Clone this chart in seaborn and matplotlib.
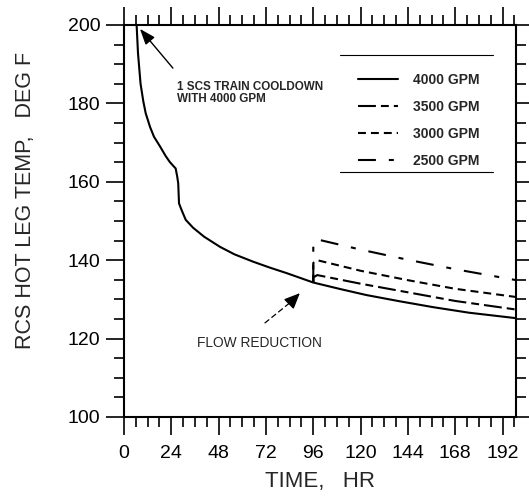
import matplotlib
matplotlib.use("Agg")
import matplotlib.pyplot as plt
from matplotlib.ticker import MultipleLocator
from matplotlib.lines import Line2D
import seaborn as sns
import pandas as pd

# ---- data ----
time_4000 = [6.4, 7.1, 8.4, 9.8, 11.0, 13.2, 15.2, 18.3, 21.1, 23.3, 26.2, 27.0, 27.5, 27.9,
             29.2, 31.3, 35.0, 40.6, 48.7, 56.0, 65.6, 74.0, 82.5, 96.0, 110.0, 123.0,
             140.0, 157.0, 175.0, 199.0]
temp_4000 = [200.0, 192.8, 185.0, 180.5, 177.5, 174.0, 171.5, 169.0, 166.6, 165.0, 163.4, 161.3,
             159.6, 154.5, 152.8, 150.3, 148.3, 146.0, 143.4, 141.5, 139.6, 138.1, 136.7, 134.3,
             132.6, 131.1, 129.5, 128.0, 126.6, 125.2]

time_reduced = [96.0, 96.0, 98.0, 120.0, 144.0, 168.0, 199.0]
temp_3500 = [134.3, 135.6, 136.2, 134.0, 131.8, 129.6, 127.4]
temp_3000 = [134.3, 139.3, 140.0, 137.3, 134.9, 132.7, 130.6]
temp_2500 = [134.3, 144.5, 145.3, 142.7, 140.1, 137.7, 134.9]

flow_labels = ["4000 GPM", "3500 GPM", "3000 GPM", "2500 GPM"]
x_ticks = [0, 24, 48, 72, 96, 120, 144, 168, 192]
y_ticks = [100, 120, 140, 160, 180, 200]

frames = [pd.DataFrame({"time": time_4000, "temp": temp_4000, "flow": flow_labels[0]})]
for lab, vals in zip(flow_labels[1:], [temp_3500, temp_3000, temp_2500]):
    frames.append(pd.DataFrame({"time": time_reduced, "temp": vals, "flow": lab}))
df = pd.concat(frames, ignore_index=True)

# ---- style ----
sns.set_style("ticks")
plt.rcParams["font.family"] = ["Liberation Sans", "DejaVu Sans"]

fig = plt.figure(figsize=(5.29, 4.96), dpi=100)
ax = fig.add_axes([0.2344, 0.1593, 0.7410, 0.7903])

dash_map = {
    "4000 GPM": "",
    "3500 GPM": (8.6, 2.4, 3.8, 2.4),
    "3000 GPM": (3.8, 2.4),
    "2500 GPM": (8.6, 6.2, 2.4, 6.2),
}
sns.lineplot(data=df, x="time", y="temp", hue="flow", style="flow",
             hue_order=flow_labels, style_order=flow_labels,
             palette=["black"] * 4, dashes=dash_map, estimator=None, sort=False,
             linewidth=1.5, ax=ax, legend=False)

ax.set_xlim(0, 198.8)
ax.set_ylim(100, 200)
ax.set_xticks(x_ticks)
ax.set_yticks(y_ticks)
ax.xaxis.set_minor_locator(MultipleLocator(6))
ax.yaxis.set_minor_locator(MultipleLocator(5))
ax.tick_params(which="both", direction="out", top=True, right=True, colors="black",
               width=1.2)
ax.tick_params(which="major", length=13, labelsize=14)
ax.tick_params(which="minor", length=7)
ax.tick_params(axis="x", which="major", pad=7)
ax.tick_params(axis="y", which="major", pad=4)
for s in ax.spines.values():
    s.set_linewidth(1.5)
    s.set_color("black")

ax.set_xlabel("TIME,   HR", fontsize=16, labelpad=7)
ax.set_ylabel("RCS HOT LEG TEMP,   DEG F", fontsize=15.5)
ax.yaxis.set_label_coords(-0.224, 0.553)

# legend
handles = [Line2D([0], [0], color="black", lw=1.5,
                  linestyle=(0, dash_map[l]) if dash_map[l] else "-") for l in flow_labels]
leg = ax.legend(handles, flow_labels, loc="upper left", bbox_to_anchor=(0.583, 0.891),
                frameon=False, handlelength=2.9, handletextpad=1.08, labelspacing=0.93,
                prop={"size": 10, "weight": "bold"}, borderaxespad=0)
ax.plot([0.551, 0.941], [0.923, 0.923], transform=ax.transAxes, color="black", lw=0.8)
ax.plot([0.551, 0.941], [0.625, 0.625], transform=ax.transAxes, color="black", lw=0.8)

# annotations
ax.annotate("", xy=(8.1, 199.0), xytext=(24.8, 189.0),
            arrowprops=dict(arrowstyle="-|>,head_length=0.8,head_width=0.3",
                            color="black", lw=1.0, mutation_scale=12, shrinkA=0, shrinkB=0))
ax.text(26.7, 185.6, "1 SCS TRAIN COOLDOWN\nWITH 4000 GPM", fontsize=8.4,
        fontweight="bold", ha="left", va="top", linespacing=0.95)

ax.annotate("", xy=(86.0, 129.9), xytext=(71.5, 124.0),
            arrowprops=dict(arrowstyle="-", color="black", lw=0.9, linestyle=(0, (4, 3)),
                            shrinkA=0, shrinkB=0))
ax.annotate("", xy=(89.2, 131.6), xytext=(85.0, 129.5),
            arrowprops=dict(arrowstyle="-|>,head_length=0.8,head_width=0.35",
                            color="black", lw=1.0, mutation_scale=12, shrinkA=0, shrinkB=0))
ax.text(36.9, 118.8, "FLOW REDUCTION", fontsize=9.9, ha="left", va="center")

fig.savefig("out.png", dpi=100)
